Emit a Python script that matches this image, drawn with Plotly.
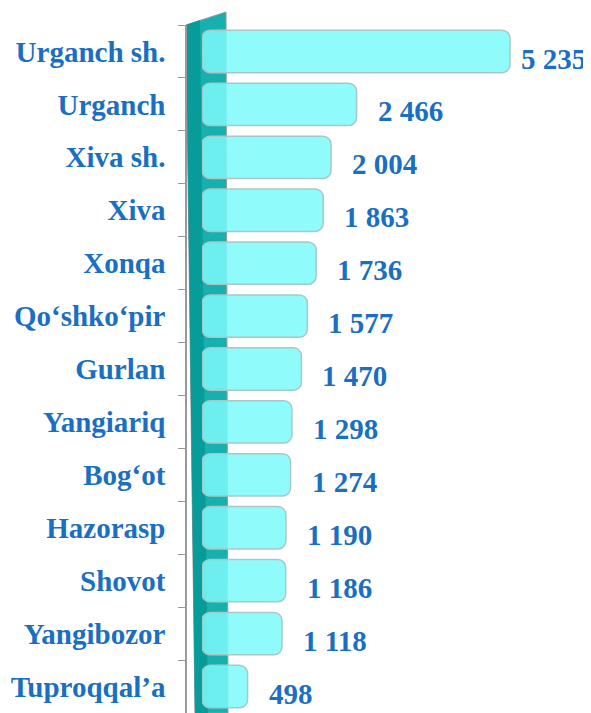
import plotly.graph_objects as go

# Districts (top to bottom as shown) and their values
districts = ["Urganch sh.", "Urganch", "Xiva sh.", "Xiva", "Xonqa", "Qo‘shko‘pir",
             "Gurlan", "Yangiariq", "Bog‘ot", "Hazorasp", "Shovot", "Yangibozor",
             "Tuproqqal’a"]
values = [5235, 2466, 2004, 1863, 1736, 1577, 1470, 1298, 1274, 1190, 1186, 1118, 498]
value_labels = [f"{v:,}".replace(",", " ") for v in values]

# the page adds an 8px body margin, so the figure is a bit smaller
OFF = 8
W, H = 591 - OFF, 713 - OFF
L, T = 186 - OFF, 25 - OFF
PW, PH = W - L, H - T


def px(x):
    # x in window pixels -> paper fraction
    return (x - OFF - L) / PW


def py(y):
    return (H - (y - OFF)) / PH


blue = "#1a6fc2"
font_family = "Liberation Serif, Times New Roman, serif"

# 3D depth: bars start a little left of the value zero
DEPTH = -325

fig = go.Figure()

fig.add_trace(go.Bar(
    y=districts,
    x=[v - DEPTH for v in values],
    base=DEPTH,
    orientation="h",
    cliponaxis=False,
    marker=dict(color="rgba(125,250,250,0.85)",
                line=dict(color="#a8c8c8", width=1.5),
                cornerradius=8),
    width=0.8,
    hovertext=value_labels,
    hoverinfo="y+text",
))

vmax = max(values)
annotations = [
    dict(x=v, y=d, xref="x", yref="y", text=t, showarrow=False,
         xanchor="left", xshift=9 if v == vmax else 19,
         yshift=-8 if v == vmax else -7,
         font=dict(family=font_family, size=29, color=blue, weight="bold"))
    for d, v, t in zip(districts, values, value_labels)
]

# teal "wall" behind the bars
wall = (f"M {px(186)} {py(25)} L {px(226)} {py(12)} L {px(228)} {py(713)} "
        f"L {px(195)} {py(713)} Z")
wall_front = (f"M {px(186)} {py(25)} L {px(200)} {py(20)} L {px(208)} {py(713)} "
              f"L {px(195)} {py(713)} Z")

fig.update_layout(
    width=W, height=H,
    margin=dict(l=L, r=0, t=T, b=0, autoexpand=False),
    paper_bgcolor="white",
    plot_bgcolor="white",
    showlegend=False,
    annotations=annotations,
    shapes=[
        dict(type="path", path=wall, xref="paper", yref="paper",
             fillcolor="#17b0ae", line=dict(color="#8a9a9a", width=1), layer="below"),
        dict(type="path", path=wall_front, xref="paper", yref="paper",
             fillcolor="#079c9a", line=dict(width=0), layer="below"),
    ],
    xaxis=dict(domain=[px(202), 1], range=[DEPTH, 6697], visible=False, automargin=False),
    yaxis=dict(
        autorange="reversed",
        anchor="free", position=0, automargin=False,
        showline=True, linecolor="#999999", linewidth=1.5,
        ticks="outside", tickson="boundaries", ticklen=7, tickcolor="#999999",
        ticklabelstandoff=14,
        tickfont=dict(family=font_family, size=29, color=blue, weight="bold"),
        showgrid=False,
    ),
)

fig.write_html("out.html")
